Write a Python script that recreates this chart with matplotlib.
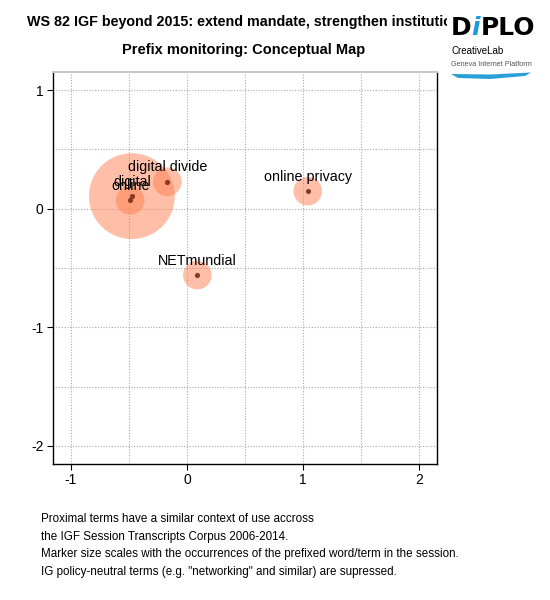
import matplotlib.pyplot as plt
from matplotlib.patches import Rectangle, Polygon

plt.rcParams["font.family"] = ["Liberation Sans", "DejaVu Sans"]
plt.rcParams["axes.unicode_minus"] = False

# prefixed terms, map coordinates and occurrences in the session
terms = ["online", "digital", "digital divide", "online privacy", "NETmundial"]
x_pos = [-0.488, -0.474, -0.168, 1.04, 0.09]
y_pos = [0.07, 0.106, 0.227, 0.148, -0.56]
occurrences = [1, 9, 1, 1, 1]

x_ticks = [-1, 0, 1, 2]
y_ticks = [1, 0, -1, -2]

title_1 = "WS 82 IGF beyond 2015: extend mandate, strengthen institutions"
title_2 = "Prefix monitoring: Conceptual Map"
footer = [
    "Proximal terms have a similar context of use accross",
    "the IGF Session Transcripts Corpus 2006-2014.",
    "Marker size scales with the occurrences of the prefixed word/term in the session.",
    'IG policy-neutral terms (e.g. "networking" and similar) are supressed.',
]

W, H = 550, 600
fig = plt.figure(figsize=(W / 100, H / 100), dpi=100)
ax = fig.add_axes([53.3 / W, 1 - 463.7 / H, (436.7 - 53.3) / W, (463.7 - 72.3) / H])

base = 424
sizes = [c * base for c in occurrences]
ax.scatter(x_pos, y_pos, s=sizes, color="#FF7F50", alpha=0.5, linewidths=0, zorder=3)
ax.scatter(x_pos, y_pos, s=14, color="#8B3A22", linewidths=0, zorder=4)

for t, x, y in zip(terms, x_pos, y_pos):
    ax.annotate(t, (x, y), xytext=(0, 10.5), textcoords="offset points",
                ha="center", va="center", fontsize=10.3, zorder=5)

ax.set_xlim(-1.15, 2.15)
ax.set_ylim(-2.15, 1.15)
ax.set_xticks(x_ticks)
ax.set_yticks(y_ticks)
ax.set_xticks([-0.5, 0.5, 1.5], minor=True)
ax.set_yticks([0.5, -0.5, -1.5], minor=True)
ax.tick_params(which="minor", length=0)
ax.tick_params(which="major", length=4, width=0.8, labelsize=10, pad=3)
ax.grid(which="both", color="#AAAAAA", linestyle=(0, (1, 1.5)), linewidth=0.8)
ax.set_axisbelow(True)
for side in ["left", "right", "bottom"]:
    ax.spines[side].set_color("black")
    ax.spines[side].set_linewidth(1.0)
ax.spines["top"].set_color("#C8C8C8")
ax.spines["top"].set_linewidth(1.5)

fig.text(27 / W, 1 - 22 / H, title_1, fontsize=10.3, fontweight="bold",
         ha="left", va="center")
fig.text(244 / W, 1 - 50 / H, title_2, fontsize=10.5, fontweight="bold",
         ha="center", va="center")

for i, line in enumerate(footer):
    fig.text(41 / W, 1 - (519.5 + 17.5 * i) / H, line, fontsize=8.4,
             ha="left", va="center")

# logo
fig.patches.append(Rectangle((447 / W, 1 - 85 / H), 103 / W, 80 / H,
                             transform=fig.transFigure, facecolor="white",
                             edgecolor="none", zorder=5))
fig.text(451 / W, 1 - 28 / H, "D", fontsize=18, fontweight="bold",
         family="DejaVu Sans", ha="left", va="center", zorder=6)
fig.text(471 / W, 1 - 28 / H, "i", fontsize=18, fontweight="bold", style="italic",
         family="DejaVu Sans", color="#1E9BD7", ha="left", va="center", zorder=6)
fig.text(481 / W, 1 - 28 / H, "PLO", fontsize=18, fontweight="bold",
         family="DejaVu Sans", ha="left", va="center", zorder=6)
fig.text(451 / W, 1 - 51 / H, "CreativeLab", fontsize=7,
         ha="left", va="center", zorder=6)
fig.text(451 / W, 1 - 64 / H, "Geneva Internet Platform", fontsize=5.2,
         color="#555555", ha="left", va="center", zorder=6)
swoosh = [(451, 74), (490, 74.5), (531, 72.5), (525, 76), (490, 79), (458, 78)]
fig.patches.append(Polygon([(x / W, 1 - y / H) for x, y in swoosh],
                           transform=fig.transFigure, facecolor="#2A9FD8",
                           edgecolor="none", zorder=6))

fig.savefig("out.png", dpi=100)
